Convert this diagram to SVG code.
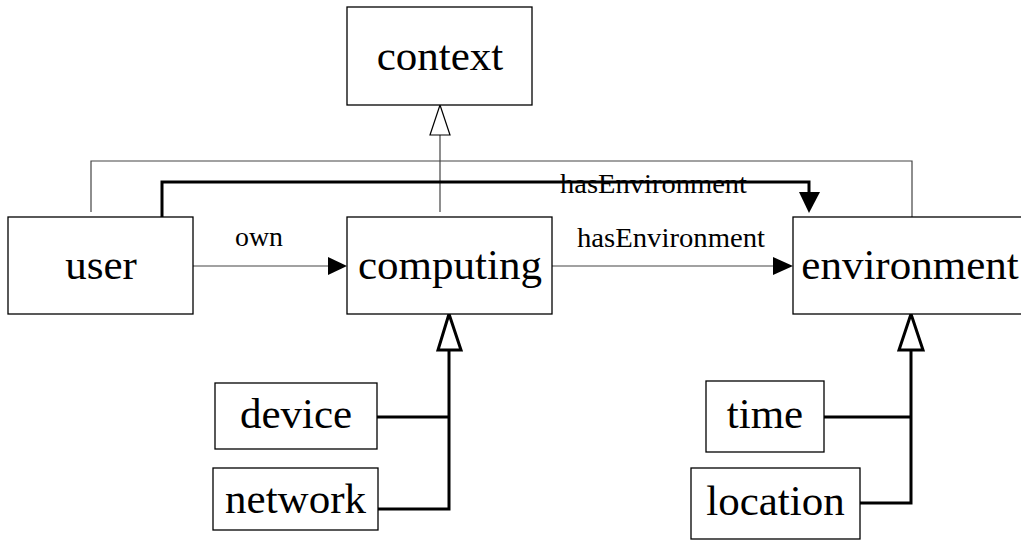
<svg xmlns="http://www.w3.org/2000/svg" width="1021" height="540" viewBox="0 0 1021 540">
<defs>
<style>
.box{fill:#fff;stroke:#000;stroke-width:1.3}
.t{font-family:'Liberation Serif','Times New Roman',Times,'DejaVu Serif',serif;font-size:43px;fill:#000;text-anchor:middle}
.lbl{font-family:'Liberation Serif','Times New Roman',Times,'DejaVu Serif',serif;font-size:27px;fill:#000}
.thin{fill:none;stroke:#444;stroke-width:1.2}
.thick{fill:none;stroke:#000;stroke-width:3}
</style>
</defs>
<g id="connectors">
<polyline class="thin" points="91,212 91,161 912,161 912,217"/>
<line class="thin" x1="440" y1="212" x2="440" y2="135"/>
<polygon points="440,105 430,135 450,135" fill="#fff" stroke="#000" stroke-width="1.2"/>
<polyline class="thick" points="162,217 162,182 809,182 809,195"/>
<polygon points="799,192 820,192 809,213" fill="#000"/>
<text class="lbl" x="560" y="193" textLength="187" lengthAdjust="spacingAndGlyphs">hasEnvironment</text>
<line class="thin" x1="193" y1="266" x2="330" y2="266"/>
<polygon points="347,266 328,257 328,275" fill="#000"/>
<text class="lbl" x="235" y="246" textLength="48" lengthAdjust="spacingAndGlyphs">own</text>
<line class="thin" x1="552" y1="266" x2="776" y2="266"/>
<polygon points="793,266 773,257 773,275" fill="#000"/>
<text class="lbl" x="577" y="247" textLength="188" lengthAdjust="spacingAndGlyphs">hasEnvironment</text>
<polyline class="thick" points="377,417 449,417"/>
<polyline class="thick" points="378,509 449,509 449,350"/>
<polygon points="449,314 438,350 461,350" fill="#fff" stroke="#000" stroke-width="3"/>
<polyline class="thick" points="824,417 911,417"/>
<polyline class="thick" points="860,503 911,503 911,350"/>
<polygon points="911,314 899,350 923,350" fill="#fff" stroke="#000" stroke-width="3"/>
</g>
<g id="context">
<rect class="box" x="347" y="7" width="185" height="98"/>
<text class="t" x="440" y="70">context</text>
</g>
<g id="user">
<rect class="box" x="8" y="217" width="185" height="97"/>
<text class="t" x="101" y="279">user</text>
</g>
<g id="computing">
<rect class="box" x="347" y="217" width="205" height="97"/>
<text class="t" x="450" y="279">computing</text>
</g>
<g id="environment">
<rect class="box" x="793" y="217" width="233" height="97"/>
<text class="t" x="910" y="279">environment</text>
</g>
<g id="device">
<rect class="box" x="215" y="383" width="162" height="66"/>
<text class="t" x="296" y="428">device</text>
</g>
<g id="network">
<rect class="box" x="213" y="468" width="165" height="62"/>
<text class="t" x="295.5" y="513">network</text>
</g>
<g id="time">
<rect class="box" x="706" y="381" width="118" height="71"/>
<text class="t" x="765" y="428">time</text>
</g>
<g id="location">
<rect class="box" x="691" y="468" width="169" height="71"/>
<text class="t" x="775.5" y="515">location</text>
</g>
</svg>
